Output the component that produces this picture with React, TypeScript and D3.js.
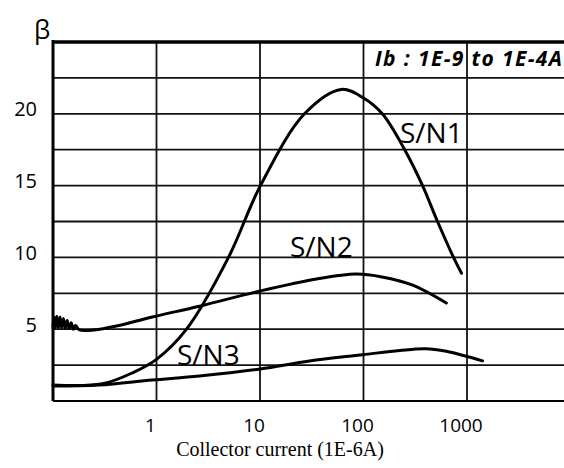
import React from "react";
import * as d3 from "d3";

type Pt = [number, number];

const xTicks = [1, 10, 100, 1000];
const xTickLabels = ["1", "10", "100", "1000"];
const xGrid = [1, 10, 100, 1000, 10000];
const yTicks = [5, 10, 15, 20];
const yGrid = [2.5, 5, 7.5, 10, 12.5, 15, 17.5, 20, 22.5];

const sn1: Pt[] = [
  [0.1, 1.11], [0.3, 1.2], [0.6, 2.0], [1.0, 2.9], [1.95, 5.0],
  [4.96, 10.0], [10.1, 15.0], [26.9, 20.0], [61, 21.7], [100, 21.1],
  [152, 20.0], [250, 17.5], [372, 15.0], [519, 12.5], [741, 10.0],
  [885, 8.9],
];

const sn2: Pt[] = [
  [0.1, 5.2], [0.103, 5.85], [0.106, 5.1], [0.109, 5.9], [0.113, 5.1],
  [0.117, 5.85], [0.121, 5.1], [0.126, 5.75], [0.131, 5.05], [0.137, 5.6],
  [0.143, 5.05], [0.15, 5.45], [0.157, 5.0], [0.165, 5.25], [0.18, 4.95],
  [0.25, 4.95], [0.4, 5.2], [0.91, 5.85],
  [2.6, 6.6], [10, 7.66], [35.2, 8.5], [85, 8.84], [151, 8.64],
  [295, 8.08], [631, 6.82],
];

const sn3: Pt[] = [
  [0.1, 1.04], [0.28, 1.11], [0.91, 1.46], [2.6, 1.74], [10, 2.23],
  [30, 2.79], [98, 3.22], [224, 3.52], [400, 3.64], [631, 3.46],
  [1000, 3.1], [1413, 2.79],
];

const seriesNames = ["S/N1", "S/N2", "S/N3"];
const legendText = "Ib : 1E-9 to 1E-4A";
const xTitle = "Collector current (1E-6A)";

export default function App() {
  const W = 564;
  const H = 468;
  const x = d3.scaleLog().domain([0.1, 10000]).range([53, 570.5]);
  const y = d3.scaleLinear().domain([0, 25]).range([401, 42]);
  const line = d3
    .line<Pt>()
    .x((d) => x(d[0]))
    .y((d) => y(d[1]))
    .curve(d3.curveCatmullRom.alpha(0.5));

  const sans = "'Open Sans', 'Noto Sans', sans-serif";
  const labelPos: [number, number][] = [
    [400, 143],
    [290, 257],
    [177, 365],
  ];

  return (
    <svg
      width={W}
      height={H}
      style={{ position: "fixed", left: 0, top: 0, background: "#fff" }}
    >
      <rect x={0} y={0} width={W} height={H} fill="#fff" />
      {yGrid.map((v) => (
        <line
          key={"hy" + v}
          x1={x(0.1)}
          x2={W}
          y1={y(v)}
          y2={y(v)}
          stroke="#111"
          strokeWidth={1.8}
        />
      ))}
      {xGrid.map((v) => (
        <line
          key={"vx" + v}
          x1={x(v)}
          x2={x(v)}
          y1={y(25)}
          y2={y(0)}
          stroke="#111"
          strokeWidth={1.8}
        />
      ))}
      {/* axes */}
      <line x1={x(0.1)} x2={W} y1={y(0)} y2={y(0)} stroke="#000" strokeWidth={2.2} />
      <line x1={x(0.1)} x2={W} y1={y(25)} y2={y(25)} stroke="#000" strokeWidth={3.5} />
      <line x1={x(0.1)} x2={x(0.1)} y1={y(25) - 2} y2={y(0)} stroke="#000" strokeWidth={3} />

      {/* curves */}
      {[sn1, sn2, sn3].map((s, i) => (
        <path
          key={"c" + i}
          d={line(s) || ""}
          fill="none"
          stroke="#000"
          strokeWidth={3}
          strokeLinejoin="round"
          strokeLinecap="round"
        />
      ))}

      {/* series labels */}
      {seriesNames.map((n, i) => (
        <text
          key={n}
          x={labelPos[i][0]}
          y={labelPos[i][1]}
          fontFamily={sans}
          fontSize={28}
          fill="#000"
        >
          {n}
        </text>
      ))}

      {/* legend text */}
      <text
        x={375}
        y={66}
        fontFamily={sans}
        fontSize={21}
        fontWeight="bold"
        fontStyle="italic"
        textLength={187}
        lengthAdjust="spacing"
        fill="#000"
      >
        {legendText}
      </text>

      {/* y ticks */}
      {yTicks.map((v) => (
        <text
          key={"yt" + v}
          x={37}
          y={y(v) - 3}
          textAnchor="end"
          dominantBaseline="middle"
          fontFamily={sans}
          fontSize={20}
          fill="#000"
        >
          {v}
        </text>
      ))}
      <text x={34} y={39} fontFamily={sans} fontSize={26} fill="#000">
        β
      </text>

      {/* x ticks */}
      {xTicks.map((v, i) => (
        <text
          key={"xt" + v}
          x={x(v) - 6}
          y={432}
          textAnchor="middle"
          fontFamily={sans}
          fontSize={19}
          fill="#000"
        >
          {xTickLabels[i]}
        </text>
      ))}
      <text
        x={280}
        y={456}
        textAnchor="middle"
        fontFamily="'Liberation Serif', 'Times New Roman', serif"
        fontSize={20}
        fill="#000"
      >
        {xTitle}
      </text>
    </svg>
  );
}
